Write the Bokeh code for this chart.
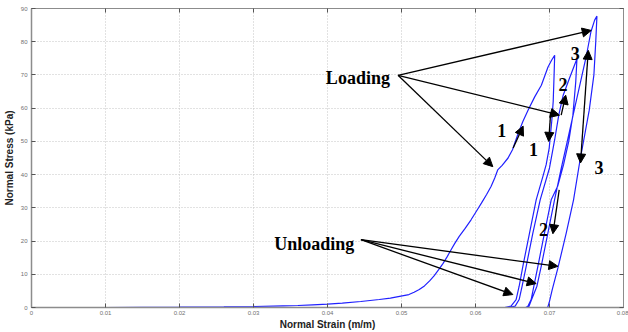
from bokeh.plotting import figure
from bokeh.models import (Arrow, NormalHead, Label, FixedTicker,
                          CustomJSTickFormatter, LinearAxis, Range1d)
from bokeh.embed import file_html
from bokeh.resources import INLINE

# Axis ticks
x_ticks = [0, 0.01, 0.02, 0.03, 0.04, 0.05, 0.06, 0.07, 0.08]
y_ticks = [0, 10, 20, 30, 40, 50, 60, 70, 80, 90]

# Cyclic compression test: normal strain (m/m) vs normal stress (kPa)
load1_strain = [0.0, 0.010, 0.020, 0.026, 0.030, 0.034, 0.036, 0.038, 0.040, 0.042,
                0.0445, 0.047, 0.0485, 0.0501, 0.0510, 0.0517, 0.0524, 0.0531, 0.0538,
                0.0544, 0.0550, 0.0556, 0.0562, 0.0567, 0.0572, 0.0578, 0.0586, 0.0594,
                0.0601, 0.0608, 0.0615, 0.0621, 0.0626, 0.0630, 0.0636, 0.0644, 0.0650,
                0.0657, 0.0664, 0.0671, 0.0680, 0.0689, 0.0698, 0.0703, 0.0707]
load1_stress = [0.0, 0.0, 0.1, 0.2, 0.3, 0.5, 0.6, 0.8, 1.0, 1.3,
                1.8, 2.4, 2.8, 3.5, 3.9, 4.6, 5.4, 6.5, 8.0,
                9.5, 11.3, 13.2, 15.4, 17.4, 19.3, 21.4, 23.8, 26.4,
                28.9, 31.4, 34.0, 36.4, 39.0, 41.4, 42.8, 45.0, 47.5,
                52.0, 56.0, 59.4, 63.4, 66.9, 72.4, 74.5, 75.9]

unload1_strain = [0.0707, 0.07062, 0.07050, 0.07030, 0.06996, 0.06955, 0.0691, 0.0682,
                  0.0673, 0.0664, 0.0659, 0.06549, 0.0648, 0.0641, 0.0610, 0.0567]
unload1_stress = [75.9, 70.0, 62.0, 56.0, 48.0, 43.0, 39.4, 32.4,
                  22.4, 12.4, 6.4, 2.4, 0.4, 0.05, 0.0, 0.0]

load2_strain = [0.0567, 0.0600, 0.0640, 0.0648, 0.06536, 0.0659, 0.0663, 0.06685,
                0.06775, 0.06874, 0.0700, 0.0707, 0.07125, 0.07185, 0.0727, 0.07371]
load2_stress = [0.0, 0.0, 0.05, 0.15, 0.4, 2.4, 6.4, 12.4,
                22.4, 32.4, 42.0, 50.5, 57.9, 63.9, 69.0, 74.9]

unload2_strain = [0.07371, 0.07355, 0.07316, 0.0726, 0.0719, 0.0711, 0.07023, 0.06932,
                  0.06843, 0.06789, 0.06752, 0.06708, 0.0668]
unload2_stress = [74.9, 68.0, 57.9, 50.0, 43.0, 36.5, 32.4, 22.4,
                  12.4, 6.4, 2.4, 0.4, 0.0]

load3_strain = [0.0668, 0.0672, 0.06758, 0.0683, 0.06888, 0.06978, 0.07068, 0.0716,
                0.0725, 0.0734, 0.0743, 0.0750, 0.0756, 0.0761, 0.07641]
load3_stress = [0.0, 0.2, 2.4, 6.4, 12.4, 22.4, 32.4, 42.0,
                51.0, 60.0, 69.0, 76.0, 83.0, 86.5, 87.7]

unload3_strain = [0.07641, 0.07625, 0.0760, 0.07537, 0.07406, 0.07325, 0.07226, 0.07114,
                  0.07037, 0.06996, 0.06978, 0.0697]
unload3_stress = [87.7, 80.0, 70.0, 59.4, 43.5, 32.4, 22.4, 11.9,
                  5.4, 1.5, 0.2, 0.0]

strain = (load1_strain + unload1_strain + load2_strain + unload2_strain
          + load3_strain + unload3_strain)
stress = (load1_stress + unload1_stress + load2_stress + unload2_stress
          + load3_stress + unload3_stress)

# Annotation callouts: (strain, stress) of label anchors and arrow ends
loading_label = (0.03978, 69.2)
loading_from = (0.04953, 69.9)
loading_tips = [(0.06234, 42.4), (0.07135, 57.9), (0.07564, 83.4)]

unloading_label = (0.0328, 19.1)
unloading_from = (0.04452, 20.4)
unloading_tips = [(0.07114, 12.4), (0.0682, 7.2), (0.06505, 3.9)]

cycle_numbers = [("1", 0.06356, 53.4), ("1", 0.06784, 47.6), ("2", 0.07181, 67.2),
                 ("3", 0.07348, 76.6), ("3", 0.07668, 42.1), ("2", 0.06919, 23.6)]
cycle_arrows = [((0.06509, 48.0), (0.06644, 54.6), False),
                ((0.07016, 58.8), (0.06989, 50.0), False),
                ((0.07158, 57.9), (0.07219, 63.9), False),
                ((0.07419, 43.5), (0.07524, 77.4), True),
                ((0.07131, 35.4), (0.07046, 22.2), False)]

p = figure(width=628, height=332, output_backend="svg", toolbar_location=None,
           x_range=Range1d(0, 0.08), y_range=Range1d(0, 90),
           min_border_left=31, min_border_right=5, min_border_top=8,
           min_border_bottom=24, background_fill_color="white",
           border_fill_color="white")
p.outline_line_color = "#8c8c8c"
p.outline_line_width = 1

x_ticker = FixedTicker(ticks=x_ticks)
y_ticker = FixedTicker(ticks=y_ticks)

p.xaxis.ticker = x_ticker
p.yaxis.ticker = y_ticker
p.xaxis.formatter = CustomJSTickFormatter(
    code="return tick == 0 ? '0' : tick.toFixed(2);")

for ax in (p.xaxis[0], p.yaxis[0]):
    ax.major_tick_in = 4
    ax.major_tick_out = 0
    ax.minor_tick_line_color = None
    ax.axis_line_color = "#8c8c8c"
    ax.axis_line_width = 1.5
    ax.major_tick_line_color = "#555555"
    ax.major_label_text_font = "Liberation Sans"
    ax.major_label_text_font_size = "6px"
    ax.major_label_text_color = "#707070"
    ax.axis_label_text_font = "Liberation Sans"
    ax.axis_label_text_font_style = "bold"
    ax.axis_label_text_font_size = "10px"
    ax.axis_label_text_color = "#222222"

p.xaxis.axis_label = "Normal Strain (m/m)"
p.yaxis.axis_label = "Normal Stress (kPa)"
p.xaxis.major_label_standoff = 3
p.xaxis.axis_label_standoff = 1
p.yaxis.major_label_standoff = 4
p.yaxis.axis_label_standoff = 3

# Box ticks on the top and right edges
blank = CustomJSTickFormatter(code="return '';")
top_axis = LinearAxis(ticker=x_ticker, formatter=blank, major_tick_in=4,
                      major_tick_out=0, minor_tick_line_color=None,
                      axis_line_color="#8c8c8c", major_tick_line_color="#555555",
                      major_label_standoff=0, major_label_text_font_size="1px")
right_axis = LinearAxis(ticker=y_ticker, formatter=blank, major_tick_in=4,
                        major_tick_out=0, minor_tick_line_color=None,
                        axis_line_color="#8c8c8c", major_tick_line_color="#555555",
                        major_label_standoff=0, major_label_text_font_size="1px")
p.add_layout(top_axis, "above")
p.add_layout(right_axis, "right")

p.xgrid.ticker = x_ticker
p.ygrid.ticker = y_ticker
p.grid.grid_line_color = "#c4c4c4"
p.grid.grid_line_dash = "1 2"
p.grid.grid_line_width = 1

p.line(strain, stress, line_color="#2020ff", line_width=1.2)

serif = "Liberation Serif"


def head():
    return NormalHead(size=9, fill_color="black", line_color="black", line_width=1)


p.add_layout(Label(x=loading_label[0], y=loading_label[1], text="Loading",
                   text_font=serif, text_font_style="bold", text_font_size="18px",
                   text_color="black", text_align="left", text_baseline="alphabetic"))
for tx, ty in loading_tips:
    p.add_layout(Arrow(end=head(), x_start=loading_from[0], y_start=loading_from[1],
                       x_end=tx, y_end=ty, line_color="black", line_width=1.3))

p.add_layout(Label(x=unloading_label[0], y=unloading_label[1], text="Unloading",
                   text_font=serif, text_font_style="bold", text_font_size="18px",
                   text_color="black", text_align="left", text_baseline="alphabetic"))
for tx, ty in unloading_tips:
    p.add_layout(Arrow(end=head(), x_start=unloading_from[0], y_start=unloading_from[1],
                       x_end=tx, y_end=ty, line_color="black", line_width=1.3))

for txt, nx, ny in cycle_numbers:
    p.add_layout(Label(x=nx, y=ny, text=txt, text_font=serif, text_font_style="bold",
                       text_font_size="18px", text_color="black", text_align="center",
                       text_baseline="alphabetic"))

for (sx, sy), (ex, ey), both in cycle_arrows:
    p.add_layout(Arrow(start=head() if both else None, end=head(),
                       x_start=sx, y_start=sy, x_end=ex, y_end=ey,
                       line_color="black", line_width=1.3))

open("out.html", "w").write(file_html(p, INLINE))
